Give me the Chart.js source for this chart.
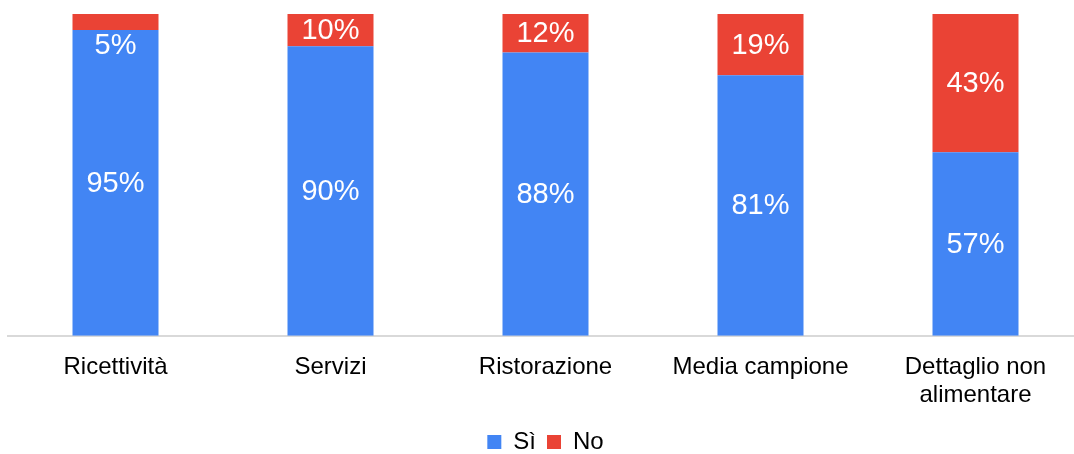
<!DOCTYPE html>
<html>
<head>
<meta charset="utf-8">
<script src="https://cdn.jsdelivr.net/npm/chart.js@4"></script>
<style>
  html, body { margin: 0; padding: 0; background: #fff; overflow: hidden; }
  #wrap { width: 1083px; height: 454px; position: relative; }
</style>
</head>
<body>
<div id="wrap"><canvas id="chart"></canvas></div>
<script>
// Categories and series (percent of answers)
const categories = ["Ricettività", "Servizi", "Ristorazione", "Media campione", ["Dettaglio non", "alimentare"]];
const siValues = [95, 90, 88, 81, 57];
const noValues = [5, 10, 12, 19, 43];

const BLUE = "#4285F4";
const RED = "#EA4335";
const FONT = "'Liberation Sans', Arial, sans-serif";

// Draw the value labels inside each segment
const segmentLabels = {
    id: "segmentLabels",
    afterDatasetsDraw(chart) {
        const ctx = chart.ctx;
        ctx.save();
        ctx.font = "29px " + FONT;
        ctx.fillStyle = "#fff";
        ctx.textAlign = "center";
        ctx.textBaseline = "middle";
        chart.data.datasets.forEach((ds, i) => {
            const meta = chart.getDatasetMeta(i);
            meta.data.forEach((bar, j) => {
                const top = Math.min(bar.y, bar.base);
                const bottom = Math.max(bar.y, bar.base);
                let y = (top + bottom) / 2;
                // too thin a segment: put the label just below it
                if (bottom - top < 24) y = bottom + 15;
                ctx.fillText(ds.data[j] + "%", bar.x, y + 1);
            });
        });
        ctx.restore();
    }
};

new Chart(document.getElementById("chart"), {
    type: "bar",
    data: {
        labels: categories,
        datasets: [
            { label: "Sì", data: siValues, backgroundColor: BLUE },
            { label: "No", data: noValues, backgroundColor: RED },
        ],
    },
    options: {
        responsive: true,
        maintainAspectRatio: false,
        animation: false,
        layout: { padding: { left: 8, right: 0, top: 14, bottom: -10 } },
        datasets: {
            bar: { barPercentage: 0.4, categoryPercentage: 1 },
        },
        scales: {
            x: {
                stacked: true,
                grid: { display: false },
                border: { display: true, color: "#d9d9d9", width: 2 },
                ticks: {
                    color: "#000",
                    font: { size: 24, family: FONT, lineHeight: 1.15 },
                    padding: 10,
                    maxRotation: 0,
                },
            },
            y: {
                stacked: true,
                display: false,
                min: 0,
                max: 100,
            },
        },
        plugins: {
            tooltip: { enabled: false },
            legend: {
                position: "bottom",
                align: "center",
                labels: {
                    boxWidth: 14,
                    boxHeight: 14,
                    color: "#000",
                    font: { size: 24, family: FONT },
                    padding: 11,
                },
            },
        },
    },
    plugins: [segmentLabels],
});
</script>
</body>
</html>
